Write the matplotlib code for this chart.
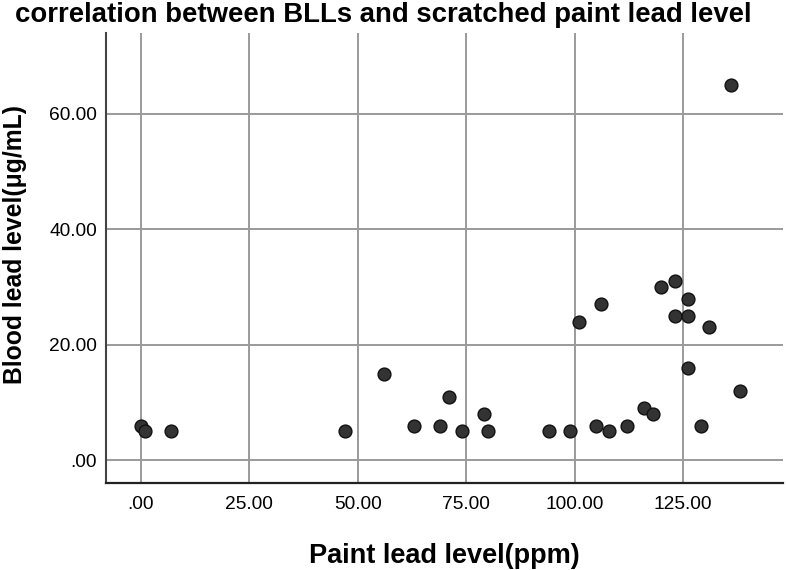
import matplotlib.pyplot as plt

# data
paint_lead = [0, 1, 7, 47, 56, 63, 69, 71, 74, 79, 80, 94, 99, 101, 105, 106,
              108, 112, 116, 118, 120, 123, 123, 126, 126, 126, 129, 131, 136, 138]
blood_lead = [6, 5, 5, 5, 15, 6, 6, 11, 5, 8, 5, 5, 5, 24, 6, 27,
              5, 6, 9, 8, 30, 31, 25, 28, 25, 16, 6, 23, 65, 12]

x_ticks = [0, 25, 50, 75, 100, 125]
x_labels = ['.00', '25.00', '50.00', '75.00', '100.00', '125.00']
y_ticks = [0, 20, 40, 60]
y_labels = ['.00', '20.00', '40.00', '60.00']

plt.rcParams['font.family'] = ['Liberation Sans', 'DejaVu Sans']

fig = plt.figure(figsize=(7.87, 5.70), dpi=100)
ax = fig.add_axes([106 / 787, 1 - 483.3 / 570, (783 - 106) / 787, (483.3 - 33) / 570])

ax.scatter(paint_lead, blood_lead, s=85, color='#333333', edgecolor='#111111',
           linewidth=1.0, zorder=3)

ax.set_xlim(-8, 148)
ax.set_ylim(-4, 74)
ax.set_xticks(x_ticks)
ax.set_xticklabels(x_labels)
ax.set_yticks(y_ticks)
ax.set_yticklabels(y_labels)
ax.tick_params(axis='x', length=0, pad=9.0, labelsize=13.8)
ax.tick_params(axis='y', length=0, pad=6.5, labelsize=13.8)

ax.grid(True, color='#9a9a9a', linewidth=1.4, zorder=0)
ax.set_axisbelow(True)
for side in ['top', 'right']:
    ax.spines[side].set_visible(False)
ax.spines['left'].set_color('#444444')
ax.spines['left'].set_linewidth(1.5)
ax.spines['bottom'].set_color('#222222')
ax.spines['bottom'].set_linewidth(1.6)

# titles and axis labels
fig.text(383.5 / 787, 1 - 22 / 570, 'correlation between BLLs and scratched paint lead level',
         ha='center', va='baseline', fontsize=19.8, fontweight='bold')
fig.text(444.5 / 787, 1 - 563 / 570, 'Paint lead level(ppm)',
         ha='center', va='baseline', fontsize=19.5, fontweight='bold')
fig.text(15 / 787, 1 - 244 / 570, 'Blood lead level(μg/mL)', rotation=90,
         ha='center', va='center', fontsize=17.8, fontweight='bold')

plt.savefig('out.png', dpi=100)
